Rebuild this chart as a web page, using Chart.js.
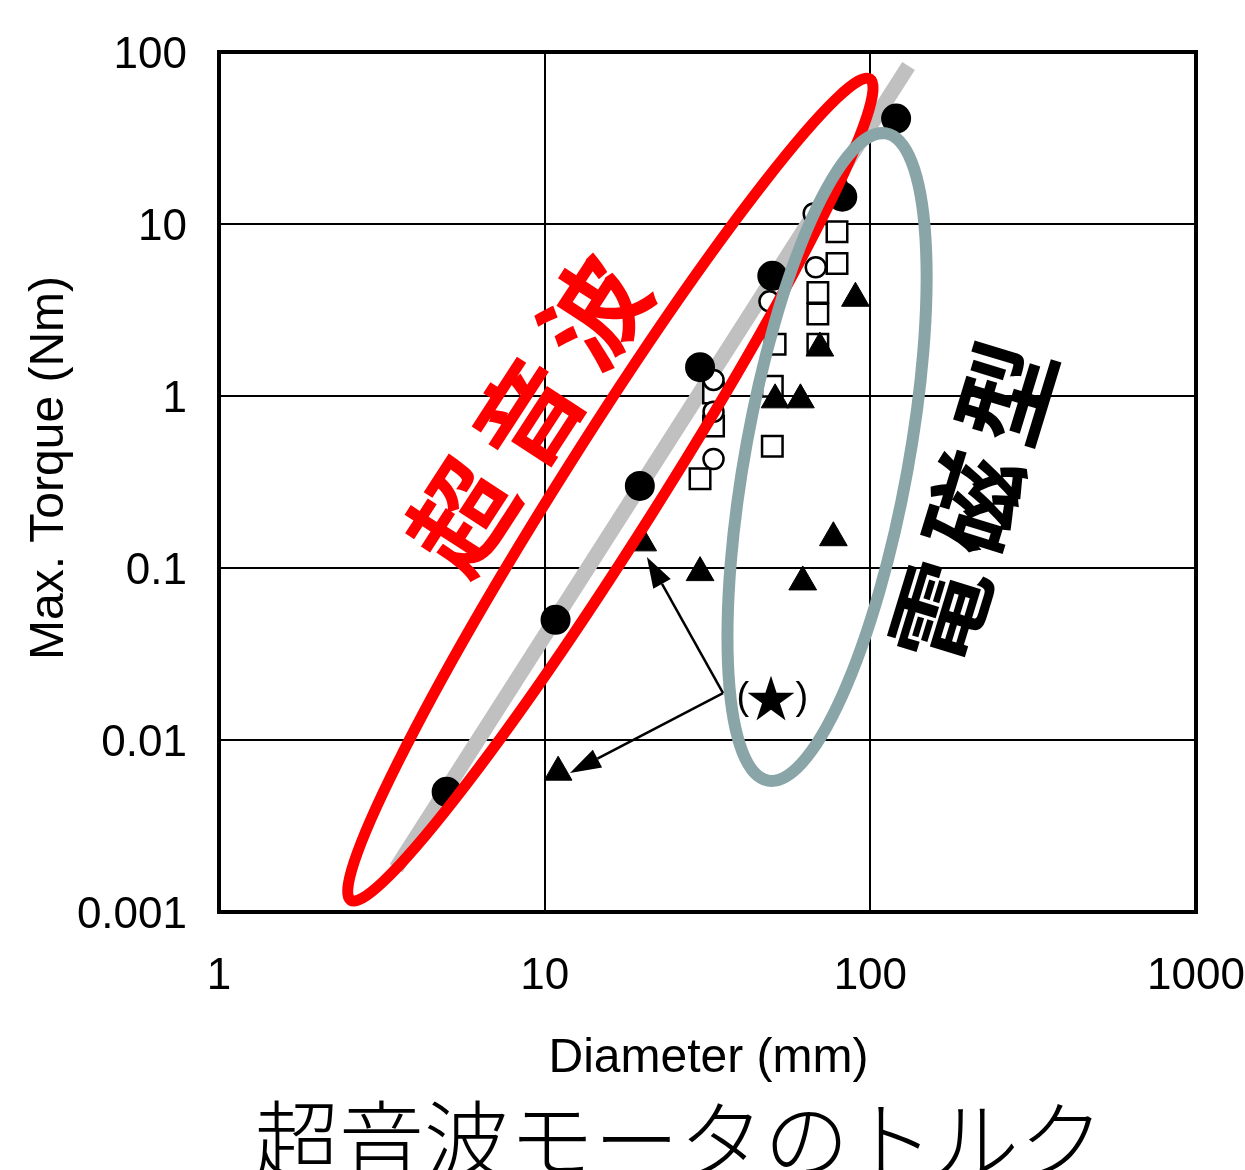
<!DOCTYPE html>
<html>
<head>
<meta charset="utf-8">
<script src="https://cdn.jsdelivr.net/npm/chart.js@4.4.1/dist/chart.umd.min.js"></script>
<style>
  html, body { margin: 0; padding: 0; background: #ffffff; }
  #c { display: block; }
</style>
</head>
<body>
<canvas id="c" width="1245" height="1170"></canvas>
<script>
// ---- axis ticks ----
const xTickValues = [1, 10, 100, 1000];
const xTickLabels = ['1', '10', '100', '1000'];
const yTickValues = [0.001, 0.01, 0.1, 1, 10, 100];
const yTickLabels = ['0.001', '0.01', '0.1', '1', '10', '100'];

// ---- ultrasonic motors (filled circles) ----
const usmDiameter = [5, 10.8, 19.6, 30, 50, 82, 120];
const usmTorque   = [0.005, 0.05, 0.30, 1.47, 5.0, 14.4, 41];

// ---- electromagnetic motors ----
const emCircleDiameter = [33, 33, 33, 49, 68, 67, 79];
const emCircleTorque   = [1.24, 0.81, 0.43, 3.55, 5.6, 11.5, 16.6];

const emSquareDiameter = [79, 79, 69, 69, 69, 33, 33, 30, 50, 51, 50];
const emSquareTorque   = [9.0, 5.9, 4.0, 3.0, 2.0, 1.04, 0.67, 0.33, 0.51, 2.0, 1.14];

const emTriangleDiameter = [11, 20, 30, 62, 77, 90, 70, 51, 61];
const emTriangleTorque   = [0.0065, 0.14, 0.094, 0.083, 0.15, 3.7, 1.9, 0.95, 0.95];

// ---- torque ~ diameter^3 guide line ----
const trendDiameter = [3.5, 131];
const trendTorque   = [0.0018, 83];

// ---- text ----
const xTitle = 'Diameter (mm)';
const yTitle = 'Max. Torque (Nm)';
const chartTitle = '超音波モータのトルク';
const usmLabel = '超音波';
const emLabel = '電磁型';
const noteLabel = '(★)';

// ---- annotation anchors (data coordinates) ----
const usmEllipse = { tipA: [2.54, 0.00117], tipB: [99.7, 69.7] };
const emEllipse  = { tipA: [48.5, 0.00581], tipB: [111.8, 33.6] };
const noteAnchor = [35.3, 0.01875];
const noteTargets = [[20.6, 0.116], [11.96, 0.00643]];
const notePos = [49.5, 0.0175];
const usmLabelPos = [8.89, 0.785];
const emLabelPos = [206.6, 0.239];

// ---- plot frame placement on the canvas ----
const plotBox = { left: 219, top: 52, right: 1196, bottom: 912 };
const fit = { padTop: 52, padRight: 49, xHeight: 258, yWidth: 219 };

const toPoints = (xs, ys) => xs.map((x, i) => ({ x: x, y: ys[i] }));

const SANS = "'Liberation Sans', Arial, sans-serif";
const CJK = "'Noto Sans CJK JP', 'Noto Sans CJK SC', sans-serif";

function rotatedChars(ctx, str, cx, cy, deg, advance) {
  ctx.save();
  ctx.translate(cx, cy);
  ctx.rotate(deg * Math.PI / 180);
  ctx.textAlign = 'center';
  ctx.textBaseline = 'middle';
  const chars = [...str];
  const n = chars.length;
  chars.forEach((ch, i) => ctx.fillText(ch, (i - (n - 1) / 2) * advance, 0));
  ctx.restore();
}

function arrow(ctx, x0, y0, x1, y1, headLen, headHalf) {
  const ang = Math.atan2(y1 - y0, x1 - x0);
  const bx = x1 - headLen * Math.cos(ang), by = y1 - headLen * Math.sin(ang);
  ctx.beginPath();
  ctx.moveTo(x0, y0);
  ctx.lineTo(bx, by);
  ctx.stroke();
  ctx.beginPath();
  ctx.moveTo(x1, y1);
  ctx.lineTo(bx - headHalf * Math.sin(ang), by + headHalf * Math.cos(ang));
  ctx.lineTo(bx + headHalf * Math.sin(ang), by - headHalf * Math.cos(ang));
  ctx.closePath();
  ctx.fill();
}

function ellipseBetween(ctx, xs, ys, tips, halfWidth, color, lw) {
  const ax = xs.getPixelForValue(tips.tipA[0]), ay = ys.getPixelForValue(tips.tipA[1]);
  const bx = xs.getPixelForValue(tips.tipB[0]), by = ys.getPixelForValue(tips.tipB[1]);
  const cx = (ax + bx) / 2, cy = (ay + by) / 2;
  const a = Math.hypot(bx - ax, by - ay) / 2;
  const rot = Math.atan2(by - ay, bx - ax);
  ctx.save();
  ctx.strokeStyle = color;
  ctx.lineWidth = lw;
  ctx.beginPath();
  ctx.ellipse(cx, cy, a, halfWidth, rot, 0, Math.PI * 2);
  ctx.stroke();
  ctx.restore();
}

// "(★)": narrow brackets with a large star between them
function noteText(ctx, str, cx, cy) {
  const [open, star, close] = [...str];
  ctx.save();
  ctx.textBaseline = 'middle';
  ctx.textAlign = 'center';
  ctx.font = '50px ' + CJK;
  ctx.fillText(star, cx, cy);
  ctx.font = '38px ' + SANS;
  ctx.fillText(open, cx - 28, cy);
  ctx.fillText(close, cx + 31, cy);
  ctx.restore();
}

const overlayPlugin = {
  id: 'overlay',
  beforeDatasetsDraw(chart) {
    const { ctx, chartArea: a } = chart;
    ctx.save();
    ctx.strokeStyle = '#000';
    ctx.lineWidth = 4;
    ctx.strokeRect(a.left, a.top, a.right - a.left, a.bottom - a.top);
    ctx.restore();
  },
  afterDatasetsDraw(chart) {
    const { ctx } = chart;
    const xs = chart.scales.x, ys = chart.scales.y;
    const px = p => [xs.getPixelForValue(p[0]), ys.getPixelForValue(p[1])];

    // note arrows and marker
    ctx.save();
    ctx.strokeStyle = '#000';
    ctx.fillStyle = '#000';
    ctx.lineWidth = 2.5;
    const [vx, vy] = px(noteAnchor);
    noteTargets.forEach(t => {
      const [tx, ty] = px(t);
      arrow(ctx, vx, vy, tx, ty, 31, 10);
    });
    const [nx, ny] = px(notePos);
    noteText(ctx, noteLabel, nx, ny);
    ctx.restore();

    // group outlines
    ellipseBetween(ctx, xs, ys, usmEllipse, 48, '#ff0000', 11);
    ellipseBetween(ctx, xs, ys, emEllipse, 81.5, '#8aa5a8', 12);

    // group labels
    ctx.save();
    ctx.font = 'bold 104px ' + CJK;
    ctx.fillStyle = '#ff0000';
    const [ux, uy] = px(usmLabelPos);
    rotatedChars(ctx, usmLabel, ux, uy, -57, 122);
    ctx.font = 'bold 100px ' + CJK;
    ctx.fillStyle = '#000000';
    const [ex, ey] = px(emLabelPos);
    rotatedChars(ctx, emLabel, ex, ey, -73, 115);
    ctx.restore();
  },
  afterDraw(chart) {
    const { ctx, chartArea: a } = chart;
    ctx.save();
    ctx.fillStyle = '#000';
    // x axis title
    ctx.font = '48px ' + SANS;
    ctx.textAlign = 'center';
    ctx.textBaseline = 'alphabetic';
    ctx.fillText(xTitle, (a.left + a.right) / 2 + 1, 1072);
    // y axis title
    ctx.save();
    ctx.translate(63, 468);
    ctx.rotate(-Math.PI / 2);
    ctx.fillText(yTitle, 0, 0);
    ctx.restore();
    // chart caption
    ctx.font = '300 85px ' + CJK;
    ctx.fillText(chartTitle, 679, 1172);
    ctx.restore();
  }
};

// invisible tick marks keep the label gap without widening the layout padding
const hiddenTicks = (len) => ({
  color: '#000', lineWidth: 2, drawTicks: true, tickLength: len, tickColor: 'rgba(0,0,0,0)'
});

const chart = new Chart(document.getElementById('c'), {
  type: 'scatter',
  data: {
    datasets: [
      {
        label: 'ultrasonic',
        data: toPoints(usmDiameter, usmTorque),
        pointStyle: 'circle',
        pointRadius: 14,
        pointBackgroundColor: '#000',
        pointBorderColor: '#000',
        pointBorderWidth: 2,
        order: 0
      },
      {
        label: 'em-triangle',
        data: toPoints(emTriangleDiameter, emTriangleTorque),
        pointStyle: 'triangle',
        pointRadius: 16,
        pointBackgroundColor: '#000',
        pointBorderColor: '#000',
        pointBorderWidth: 1,
        order: 1
      },
      {
        label: 'em-circle',
        data: toPoints(emCircleDiameter, emCircleTorque),
        pointStyle: 'circle',
        pointRadius: 10,
        pointBackgroundColor: '#fff',
        pointBorderColor: '#000',
        pointBorderWidth: 2.5,
        order: 2
      },
      {
        label: 'em-square',
        data: toPoints(emSquareDiameter, emSquareTorque),
        pointStyle: 'rect',
        pointRadius: 14.5,
        pointBackgroundColor: '#fff',
        pointBorderColor: '#000',
        pointBorderWidth: 2.5,
        order: 3
      },
      {
        label: 'trend',
        data: toPoints(trendDiameter, trendTorque),
        showLine: true,
        borderColor: '#c0c0c0',
        borderWidth: 15,
        borderCapStyle: 'butt',
        pointRadius: 0,
        order: 4
      }
    ]
  },
  options: {
    responsive: false,
    animation: false,
    events: [],
    layout: { padding: { top: fit.padTop, right: fit.padRight, left: 0, bottom: 0 } },
    plugins: { legend: { display: false }, tooltip: { enabled: false } },
    scales: {
      x: {
        type: 'logarithmic',
        min: 1, max: 1000,
        afterFit: s => { s.height = fit.xHeight; },
        afterBuildTicks: s => { s.ticks = xTickValues.map(v => ({ value: v })); },
        ticks: {
          autoSkip: false, maxRotation: 0, padding: 0,
          color: '#000', font: { family: SANS, size: 44 },
          callback: (v, i) => xTickLabels[i]
        },
        grid: hiddenTicks(38),
        border: { display: false }
      },
      y: {
        type: 'logarithmic',
        min: 0.001, max: 100,
        afterFit: s => { s.width = fit.yWidth; },
        afterBuildTicks: s => { s.ticks = yTickValues.map(v => ({ value: v })); },
        ticks: {
          autoSkip: false, padding: 0, labelOffset: 4,
          color: '#000', font: { family: SANS, size: 44 },
          callback: (v, i) => yTickLabels[i]
        },
        grid: hiddenTicks(32),
        border: { display: false }
      }
    }
  },
  plugins: [overlayPlugin]
});

// nudge the layout so the plot frame lands on plotBox
for (let k = 0; k < 3; k++) {
  const a = chart.chartArea;
  const dTop = plotBox.top - a.top, dRight = a.right - plotBox.right;
  const dBottom = a.bottom - plotBox.bottom, dLeft = plotBox.left - a.left;
  if (Math.abs(dTop) + Math.abs(dRight) + Math.abs(dBottom) + Math.abs(dLeft) < 0.5) break;
  fit.padTop = Math.max(fit.padTop + dTop, 0);
  fit.padRight = Math.max(fit.padRight + dRight, 0);
  fit.xHeight += dBottom;
  fit.yWidth += dLeft;
  chart.options.layout.padding = { top: fit.padTop, right: fit.padRight, left: 0, bottom: 0 };
  chart.update();
}
</script>
</body>
</html>
